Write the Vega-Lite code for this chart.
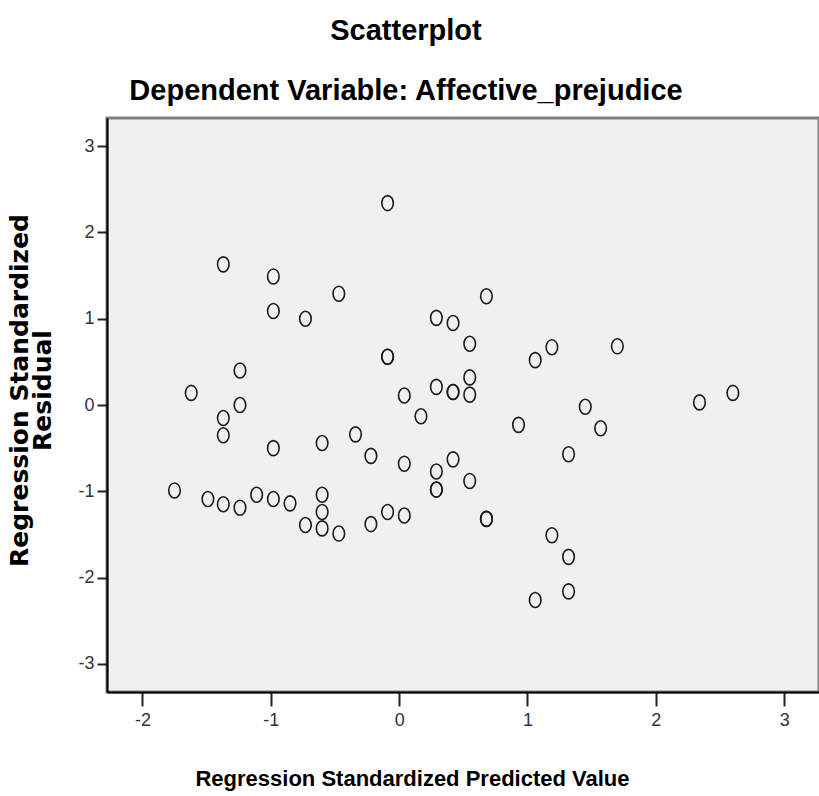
{
  "$schema": "https://vega.github.io/schema/vega-lite/v6.json",
  "autosize": "none",
  "padding": {"left": 107, "top": 118, "right": 0, "bottom": 104},
  "width": 712,
  "height": 574,
  "background": "white",
  "title": {
    "text": "Scatterplot",
    "subtitle": "Dependent Variable: Affective_prejudice",
    "anchor": "middle",
    "dx": -57,
    "font": "Liberation Sans",
    "fontSize": 29,
    "fontWeight": "bold",
    "color": "#000000",
    "subtitleFont": "Liberation Sans",
    "subtitleFontSize": 29,
    "subtitleFontWeight": "bold",
    "subtitleColor": "#000000",
    "subtitlePadding": 31,
    "offset": 12
  },
  "data": {
    "values": [
      {"pred": -0.09, "resid": 2.34},
      {"pred": -1.37, "resid": 1.63},
      {"pred": -0.98, "resid": 1.49},
      {"pred": -0.47, "resid": 1.29},
      {"pred": -0.98, "resid": 1.09},
      {"pred": -0.73, "resid": 1.00},
      {"pred": 0.68, "resid": 1.26},
      {"pred": 0.29, "resid": 1.01},
      {"pred": 0.42, "resid": 0.95},
      {"pred": 0.55, "resid": 0.71},
      {"pred": -0.09, "resid": 0.56},
      {"pred": -0.09, "resid": 0.56},
      {"pred": 1.19, "resid": 0.67},
      {"pred": 1.06, "resid": 0.52},
      {"pred": 1.70, "resid": 0.68},
      {"pred": -1.24, "resid": 0.40},
      {"pred": -1.62, "resid": 0.14},
      {"pred": 0.55, "resid": 0.32},
      {"pred": 0.29, "resid": 0.21},
      {"pred": 0.42, "resid": 0.15},
      {"pred": 0.42, "resid": 0.15},
      {"pred": 0.55, "resid": 0.12},
      {"pred": 0.04, "resid": 0.11},
      {"pred": -1.24, "resid": 0.00},
      {"pred": 0.17, "resid": -0.13},
      {"pred": -1.37, "resid": -0.15},
      {"pred": -1.37, "resid": -0.35},
      {"pred": 1.45, "resid": -0.02},
      {"pred": 2.34, "resid": 0.03},
      {"pred": 2.60, "resid": 0.14},
      {"pred": 1.57, "resid": -0.27},
      {"pred": 0.93, "resid": -0.23},
      {"pred": -0.98, "resid": -0.50},
      {"pred": -0.60, "resid": -0.44},
      {"pred": -0.34, "resid": -0.34},
      {"pred": -0.22, "resid": -0.59},
      {"pred": 0.04, "resid": -0.68},
      {"pred": 0.42, "resid": -0.63},
      {"pred": 0.29, "resid": -0.77},
      {"pred": 0.29, "resid": -0.98},
      {"pred": 0.29, "resid": -0.98},
      {"pred": 0.55, "resid": -0.88},
      {"pred": 1.32, "resid": -0.57},
      {"pred": -1.75, "resid": -0.99},
      {"pred": -1.49, "resid": -1.09},
      {"pred": -1.37, "resid": -1.15},
      {"pred": -1.24, "resid": -1.19},
      {"pred": -1.11, "resid": -1.04},
      {"pred": -0.98, "resid": -1.09},
      {"pred": -0.85, "resid": -1.14},
      {"pred": -0.73, "resid": -1.39},
      {"pred": -0.60, "resid": -1.04},
      {"pred": -0.60, "resid": -1.24},
      {"pred": -0.60, "resid": -1.43},
      {"pred": -0.47, "resid": -1.49},
      {"pred": -0.22, "resid": -1.38},
      {"pred": -0.09, "resid": -1.24},
      {"pred": 0.04, "resid": -1.28},
      {"pred": 0.68, "resid": -1.32},
      {"pred": 0.68, "resid": -1.32},
      {"pred": 1.19, "resid": -1.51},
      {"pred": 1.32, "resid": -1.76},
      {"pred": 1.32, "resid": -2.16},
      {"pred": 1.06, "resid": -2.26}
    ]
  },
  "mark": {
    "type": "point",
    "filled": false,
    "shape": "M -0.77 0 A 0.77 1 0 1 0 0.77 0 A 0.77 1 0 1 0 -0.77 0 Z",
    "size": 225,
    "stroke": "#1a1a1a",
    "strokeWidth": 1.6,
    "opacity": 1
  },
  "encoding": {
    "x": {
      "field": "pred",
      "type": "quantitative",
      "scale": {"domain": [-2.276, 3.271], "nice": false, "zero": false},
      "axis": {
        "values": [-2, -1, 0, 1, 2, 3],
        "labelExpr": "'' + datum.value",
        "grid": false,
        "domainColor": "#000000",
        "domainWidth": 2,
        "tickColor": "#222222",
        "tickWidth": 2,
        "tickSize": 14,
        "labelPadding": 5,
        "labelFont": "Liberation Sans",
        "labelFontSize": 18,
        "labelColor": "#333333",
        "title": "Regression Standardized Predicted Value",
        "titleFont": "Liberation Sans",
        "titleFontSize": 22,
        "titleFontWeight": "bold",
        "titleColor": "#000000",
        "titleX": 305,
        "titleY": 93,
        "titleAlign": "center",
        "titleBaseline": "alphabetic"
      }
    },
    "y": {
      "field": "resid",
      "type": "quantitative",
      "scale": {"domain": [-3.326, 3.326], "nice": false, "zero": false},
      "axis": {
        "values": [-3, -2, -1, 0, 1, 2, 3],
        "labelExpr": "'' + datum.value",
        "grid": false,
        "domainColor": "#000000",
        "domainWidth": 2,
        "tickColor": "#222222",
        "tickWidth": 2,
        "tickSize": 10,
        "labelPadding": 3,
        "labelFont": "Liberation Sans",
        "labelFontSize": 18,
        "labelColor": "#333333",
        "title": ["Regression Standardized", "Residual"],
        "titleFont": "DejaVu Sans",
        "titleFontSize": 25,
        "titleFontWeight": "bold",
        "titleColor": "#000000",
        "titleAngle": -90,
        "titleX": -80,
        "titleY": 272,
        "titleAlign": "center",
        "titleBaseline": "alphabetic",
        "titleLineHeight": 23
      }
    }
  },
  "config": {
    "view": {"fill": "#f0f0f0", "stroke": "#7f7f7f", "strokeWidth": 3}
  }
}
